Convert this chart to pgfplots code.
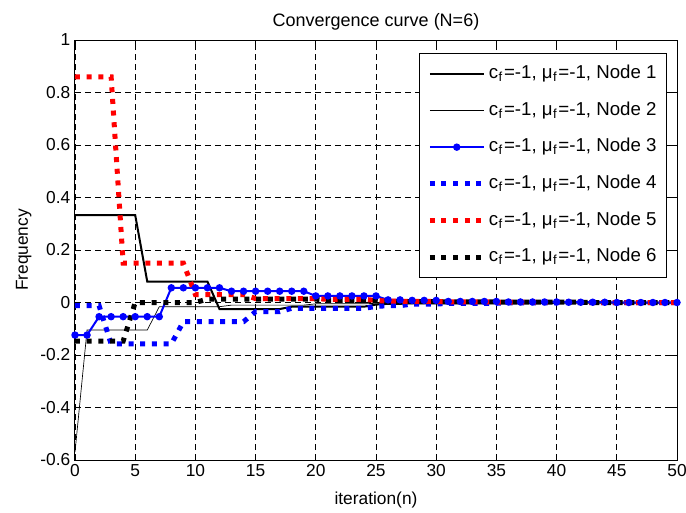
\documentclass[border=0pt]{standalone}
\usepackage{pgfplots}
\pgfplotsset{compat=1.18}
\usepackage{pgfplotstable}
\usepackage{fontspec}
\setmainfont{Liberation Sans}

\pgfplotstableread{
x n1 n2 n3 n4 n5 n6
0 0.333 -0.57 -0.124 -0.012 0.86 -0.147
1 0.333 -0.105 -0.124 -0.012 0.86 -0.147
2 0.333 -0.105 -0.054 -0.012 0.86 -0.147
3 0.333 -0.105 -0.054 -0.158 0.86 -0.147
4 0.333 -0.105 -0.054 -0.158 0.15 -0.147
5 0.333 -0.105 -0.054 -0.158 0.15 0.0
6 0.08 -0.105 -0.054 -0.158 0.15 0.0
7 0.08 -0.016 -0.054 -0.158 0.15 0.0
8 0.08 -0.016 0.056 -0.158 0.15 0.0
9 0.08 -0.016 0.056 -0.073 0.15 0.0
10 0.08 -0.016 0.056 -0.073 0.03 0.0
11 0.08 -0.016 0.056 -0.073 0.03 0.013
12 -0.025 -0.016 0.056 -0.073 0.03 0.013
13 -0.025 -0.01 0.043 -0.073 0.03 0.013
14 -0.025 -0.01 0.043 -0.073 0.03 0.013
15 -0.025 -0.01 0.043 -0.035 0.015 0.013
16 -0.025 -0.01 0.043 -0.035 0.015 0.013
17 -0.025 -0.01 0.043 -0.035 0.015 0.013
18 -0.016 -0.01 0.043 -0.022 0.015 0.013
19 -0.016 -0.01 0.043 -0.022 0.015 0.013
20 -0.016 -0.005 0.025 -0.022 0.015 0.013
21 -0.016 -0.005 0.025 -0.022 0.012 0.008
22 -0.016 -0.005 0.025 -0.022 0.012 0.008
23 -0.016 -0.005 0.025 -0.022 0.012 0.008
24 -0.016 -0.005 0.025 -0.022 0.012 0.008
25 -0.008 -0.003 0.025 -0.015 0.008 0.008
26 -0.005 -0.002 0.010 -0.012 0.005 0.004
27 -0.005 -0.002 0.010 -0.012 0.005 0.004
28 -0.003 -0.001 0.008 -0.006 0.004 0.003
29 -0.003 -0.001 0.008 -0.006 0.004 0.003
30 -0.003 -0.001 0.008 -0.006 0.004 0.003
31 -0.002 -0.001 0.004 -0.003 0.002 0.002
32 -0.002 -0.001 0.004 -0.003 0.002 0.002
33 -0.002 -0.001 0.004 -0.003 0.002 0.002
34 -0.002 -0.001 0.004 -0.003 0.002 0.002
35 -0.002 -0.001 0.004 -0.003 0.002 0.002
36 -0.001 0.0 0.002 -0.001 0.001 0.001
37 -0.001 0.0 0.002 -0.001 0.001 0.001
38 -0.001 0.0 0.002 -0.001 0.001 0.001
39 -0.001 0.0 0.002 -0.001 0.001 0.001
40 -0.001 0.0 0.002 -0.001 0.001 0.001
41 0.0 0.0 0.001 0.0 0.001 0.001
42 0.0 0.0 0.001 0.0 0.001 0.001
43 0.0 0.0 0.001 0.0 0.0 0.0
44 0.0 0.0 0.001 0.0 0.0 0.0
45 0.0 0.0 0.0 0.0 0.0 0.0
46 0.0 0.0 0.0 0.0 0.0 0.0
47 0.0 0.0 0.0 0.0 0.0 0.0
48 0.0 0.0 0.0 0.0 0.0 0.0
49 0.0 0.0 0.0 0.0 0.0 0.0
50 0.0 0.0 0.0 0.0 0.0 0.0
}\data

\tikzset{mdot/.style={line width=3.75pt, dash pattern=on 3.75pt off 5pt, line cap=butt}}
\newcommand{\leg}[1]{c\kern0.3pt\textsubscript{f}\kern0.8pt=-1, μ\kern0.3pt\textsubscript{f}\kern0.8pt=-1, Node #1}

\begin{document}
\begin{tikzpicture}[font=\fontsize{13}{15}\selectfont]
\begin{axis}[name=ax, scale only axis, width=451.5pt, height=315pt,
  xmin=0, xmax=50, ymin=-0.6, ymax=1,
  xtick={0,5,10,15,20,25,30,35,40,45,50},
  xticklabels={0,5,10,15,20,25,30,35,40,45,50},
  ytick={-0.6,-0.4,-0.2,0,0.2,0.4,0.6,0.8,1},
  yticklabels={-0.6,-0.4,-0.2,0,0.2,0.4,0.6,0.8,1},
  /pgf/number format/assume math mode=true,
  tick align=inside, major tick length=4.5pt,
  tick style={black, line width=0.6pt},
  axis line style={black, line width=0.75pt},
  grid=major, major grid style={black, line width=0.5pt, dash pattern=on 4.5pt off 3pt},
  title={Convergence curve (N=6)},
  title style={at={(axis description cs:0.5,1)}, anchor=base, yshift=4pt, font=\fontsize{13.5}{15}\selectfont},
  xlabel={iteration(n)},
  xlabel style={at={(axis description cs:0.5,-0.1048)}, anchor=base},
  ylabel={Frequency},
  ylabel style={at={(axis description cs:-0.0781,0.5)}, anchor=base, rotate=0},
  legend style={at={(axis description cs:1,1)}, anchor=north east, xshift=-7.5pt, yshift=-10pt,
    draw=black, line width=0.75pt, fill=white, row sep=10.5pt, inner xsep=5.5pt, inner ysep=6.5pt,
    font=\fontsize{14}{15}\selectfont,
    nodes={text height=10pt, text depth=3pt, inner ysep=2pt, inner xsep=2pt}},
  legend cell align=left,
  legend image code/.code={\draw[mark repeat=2, mark phase=2, #1] plot coordinates {(0pt,0pt) (20.25pt,0pt) (40.5pt,0pt)};},
]
\addplot[black, line width=1.5pt, no marks] table[x=x, y=n1] {\data};
\addlegendentry{\leg{1}}
\addplot[black, line width=0.5pt, no marks] table[x=x, y=n2] {\data};
\addlegendentry{\leg{2}}
\addplot[blue, line width=1.5pt, mark=*, mark size=2pt, mark options={solid, fill=blue}] table[x=x, y=n3] {\data};
\addlegendentry{\leg{3}}
\addplot[blue, mdot, no marks] table[x=x, y=n4] {\data};
\addlegendentry{\leg{4}}
\addplot[red, mdot, no marks] table[x=x, y=n5] {\data};
\addlegendentry{\leg{5}}
\addplot[black, mdot, no marks] table[x=x, y=n6] {\data};
\addlegendentry{\leg{6}}
\end{axis}
\pgfresetboundingbox
\path ([xshift=-56.25pt,yshift=-39pt]ax.south west) rectangle ([xshift=6.75pt,yshift=30pt]ax.north east);
\end{tikzpicture}
\end{document}
